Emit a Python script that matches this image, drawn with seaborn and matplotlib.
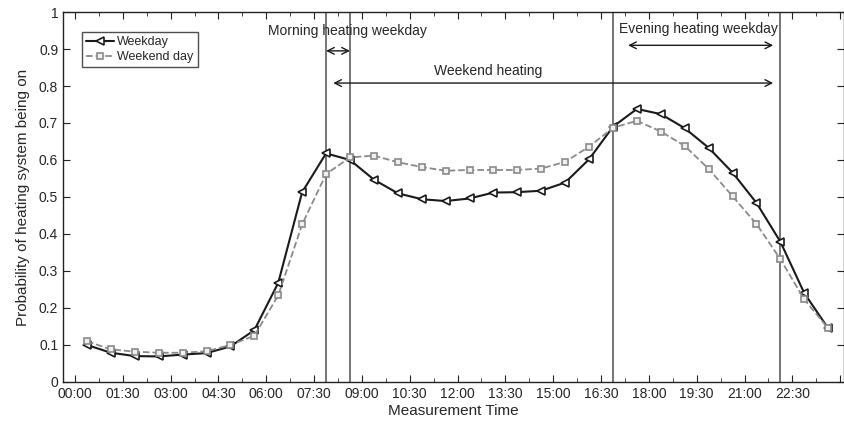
import numpy as np
import pandas as pd
import matplotlib
matplotlib.use("Agg")
import matplotlib.pyplot as plt
import seaborn as sns
from matplotlib.ticker import MultipleLocator, FuncFormatter

# -- Data: 45-min bins, plotted at bin centre (hours) ---------------
bin_hours = 0.75
time_h = [0.375 + bin_hours * i for i in range(32)]

weekday = [0.100, 0.079, 0.070, 0.069, 0.074, 0.078, 0.096, 0.140,
           0.268, 0.513, 0.618, 0.600, 0.547, 0.510, 0.494, 0.489,
           0.496, 0.512, 0.513, 0.517, 0.539, 0.602, 0.690, 0.738,
           0.724, 0.686, 0.633, 0.566, 0.484, 0.379, 0.240, 0.145]

weekend = [0.110, 0.088, 0.082, 0.079, 0.079, 0.083, 0.100, 0.125,
           0.234, 0.426, 0.562, 0.607, 0.612, 0.594, 0.581, 0.571,
           0.573, 0.573, 0.573, 0.577, 0.595, 0.636, 0.687, 0.706,
           0.677, 0.638, 0.576, 0.502, 0.427, 0.332, 0.223, 0.145]

vlines_h = [7.875, 8.625, 16.875, 22.125]

df = pd.DataFrame({
    "time": time_h * 2,
    "prob": weekday + weekend,
    "series": ["Weekday"] * 32 + ["Weekend day"] * 32,
})

sns.set_style("ticks")
plt.rcParams["font.family"] = ["Liberation Sans", "DejaVu Sans"]

fig = plt.figure(figsize=(8.45, 4.23), dpi=100)
ax = fig.add_axes([0.0746, 0.097, 0.9242, 0.8746])

sns.lineplot(data=df[df.series == "Weekday"], x="time", y="prob", ax=ax,
             color="#1a1a1a", lw=1.5, marker="<", markersize=6,
             markerfacecolor="white", markeredgecolor="#1a1a1a",
             markeredgewidth=1.2, label="Weekday")
sns.lineplot(data=df[df.series == "Weekend day"], x="time", y="prob", ax=ax,
             color="#8a8a8a", lw=1.3, linestyle="--", marker="s", markersize=5,
             markerfacecolor="#f0f0f0", markeredgecolor="#8a8a8a",
             markeredgewidth=1.2, label="Weekend day")

for xv in vlines_h:
    ax.axvline(xv, color="#6a6a6a", lw=1.3, zorder=1)

# -- Annotations ----------------------------
arrow = dict(arrowstyle="<->", color="#1a1a1a", lw=1.0, mutation_scale=12,
             shrinkA=0, shrinkB=0)
ax.annotate("", xy=(7.875, 0.895), xytext=(8.625, 0.895), arrowprops=arrow)
ax.text(8.55, 0.93, "Morning heating weekday", ha="center", va="bottom",
        fontsize=10)
ax.annotate("", xy=(8.1, 0.808), xytext=(21.9, 0.808), arrowprops=arrow)
ax.text(12.95, 0.822, "Weekend heating", ha="center", va="bottom", fontsize=10)
ax.annotate("", xy=(17.35, 0.91), xytext=(21.9, 0.91), arrowprops=arrow)
ax.text(19.55, 0.935, "Evening heating weekday", ha="center", va="bottom",
        fontsize=10)

# -- Axes -----------------------------------
ax.set_xlim(-0.375, 24.12)
ax.set_ylim(0, 1)
ax.xaxis.set_major_locator(MultipleLocator(1.5))
ax.xaxis.set_minor_locator(MultipleLocator(0.75))
ax.xaxis.set_major_formatter(FuncFormatter(
    lambda v, p: f"{int(v):02d}:{int(round((v % 1) * 60)):02d}" if v < 24 else ""))
ax.yaxis.set_major_locator(MultipleLocator(0.1))
ax.yaxis.set_major_formatter(FuncFormatter(lambda v, p: f"{v:g}"))
ax.tick_params(which="both", direction="in", top=True, right=True,
               labelsize=10, color="#222222")
ax.tick_params(which="major", length=5)
ax.tick_params(which="minor", length=3)
for s in ax.spines.values():
    s.set_color("#222222")
    s.set_linewidth(1.0)

ax.set_xlabel("Measurement Time", fontsize=11, labelpad=2)
ax.set_ylabel("Probability of heating system being on", fontsize=11, labelpad=6)

leg = ax.legend(loc="upper left", bbox_to_anchor=(0.024, 0.947), fontsize=9,
                frameon=True, fancybox=False, edgecolor="#222222",
                handlelength=2.2, borderpad=0.35, labelspacing=0.25,
                handletextpad=0.3, borderaxespad=0)
leg.get_frame().set_linewidth(1.0)

fig.savefig("out.png", dpi=100)
